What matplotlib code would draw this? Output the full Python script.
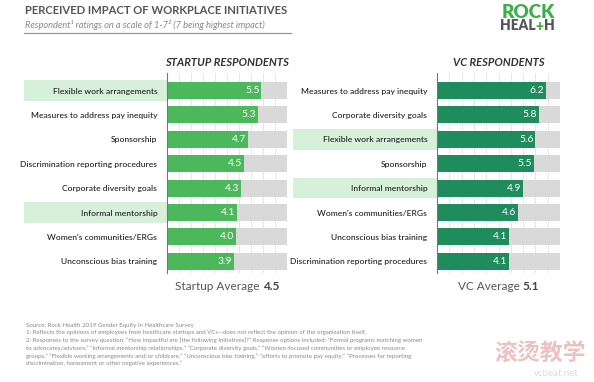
import matplotlib
matplotlib.use("Agg")
import matplotlib.pyplot as plt
import numpy as np

plt.rcParams['font.family'] = ['Lato', 'DejaVu Sans']

startup_labels = ["Flexible work arrangements", "Measures to address pay inequity", "Sponsorship",
                  "Discrimination reporting procedures", "Corporate diversity goals",
                  "Informal mentorship", "Women's communities/ERGs", "Unconscious bias training"]
startup_values = [5.5, 5.3, 4.7, 4.5, 4.3, 4.1, 4.0, 3.9]
startup_highlight = ["Flexible work arrangements", "Informal mentorship"]

vc_labels = ["Measures to address pay inequity", "Corporate diversity goals", "Flexible work arrangements",
             "Sponsorship", "Informal mentorship", "Women's communities/ERGs",
             "Unconscious bias training", "Discrimination reporting procedures"]
vc_values = [6.2, 5.8, 5.6, 5.5, 4.9, 4.6, 4.1, 4.1]
vc_highlight = ["Flexible work arrangements", "Informal mentorship"]

scale_max = 7
startup_avg = 4.5
vc_avg = 5.1

W, H = 594, 382
fig = plt.figure(figsize=(W / 100, H / 100), dpi=100)
fig.patch.set_facecolor('white')
r = fig.canvas.get_renderer()


def px_axes(x0, y0, x1, y1):
    return fig.add_axes([x0 / W, 1 - y1 / H, (x1 - x0) / W, (y1 - y0) / H])


def place_pair(label, num, cx_px, y_px, size):
    a = fig.text(0, 1 - y_px / H, label + " ", ha='left', va='center', fontsize=size, color='#555')
    b = fig.text(0, 1 - y_px / H, num, ha='left', va='center', fontsize=size, color='#444',
                 fontweight='bold')
    fig.canvas.draw()
    wa = a.get_window_extent(r).width
    wb = b.get_window_extent(r).width
    start = cx_px - (wa + wb) / 2
    a.set_x(start / W)
    b.set_x((start + wa) / W)


def panel(x0, x1, hl_x0, labels, values, highlight, color, title, avg_label, avg):
    ax = px_axes(x0, 73, x1, 273)
    n = len(labels)
    y = np.arange(n)
    unit_px = (x1 - x0) / scale_max
    hl_left = -(x0 - hl_x0) / unit_px
    for yi, lab in zip(y, labels):
        if lab in highlight:
            ax.barh(yi, -hl_left, left=hl_left, height=0.85, color='#d6f0da',
                    clip_on=False, zorder=0, linewidth=0)
    for gx in np.linspace(0, scale_max, 11):
        ax.axvline(gx, color='#e2e2e2', lw=0.6, zorder=0.5)
    ax.barh(y, [scale_max] * n, height=0.7, color='#d9d9d9', zorder=1, linewidth=0)
    ax.barh(y, values, height=0.7, color=color, zorder=2, linewidth=0)
    for yi, v in zip(y, values):
        ax.text(v - 0.1, yi, f"{v:.1f}", ha='right', va='center', color='white',
                fontsize=7.5, zorder=3)
    ax.set_xlim(0, scale_max)
    ax.set_ylim(n - 0.52, -0.72)
    ax.set_yticks(y)
    ax.set_yticklabels(labels, fontsize=6.1, color='#1e1e1e', fontweight='medium')
    ax.tick_params(axis='y', length=0, pad=7)
    ax.tick_params(axis='x', length=0, labelbottom=False)
    for s in ['top', 'right', 'bottom']:
        ax.spines[s].set_visible(False)
    ax.spines['left'].set_color('#777')
    ax.spines['left'].set_linewidth(0.8)
    ax.spines['left'].set_bounds(n - 0.52, -0.72)
    ax.set_facecolor('none')
    cx = (x0 + x1) / 2 / W
    fig.text(cx, 1 - 63 / H, title, ha='center', va='center', fontsize=8,
             fontweight='bold', fontstyle='italic', color='#333')
    place_pair(avg_label, f"{avg:.1f}", (x0 + x1) / 2, 287, 8.5)
    return ax


ax1 = panel(167, 287, 24, startup_labels, startup_values, startup_highlight, '#4cb85c',
            "STARTUP RESPONDENTS", "Startup Average", startup_avg)
ax2 = panel(437, 560, 293, vc_labels, vc_values, vc_highlight, '#1f8c5e',
            "VC RESPONDENTS", "VC Average", vc_avg)

# title block
fig.text(25 / W, 1 - 11 / H, "PERCEIVED IMPACT OF WORKPLACE INITIATIVES", ha='left', va='center',
         fontsize=8.1, fontweight='bold', color='#555')
fig.text(25 / W, 1 - 25 / H, "Respondent\u00b9 ratings on a scale of 1-7\u00b2 (7 being highest impact)",
         ha='left', va='center', fontsize=6.7, fontstyle='italic', color='#888')
fig.add_artist(plt.Line2D([24 / W, 291 / W], [1 - 33 / H, 1 - 33 / H], color='#999', lw=0.9))

# logo
fig.text(528 / W, 1 - 12 / H, "ROCK", ha='center', va='center', fontsize=13.5, fontweight='heavy',
         color='#3daf4a')
heal = fig.text(500 / W, 1 - 26 / H, "HEAL", ha='left', va='center', fontsize=9.8, fontweight='heavy',
                color='#555')
fig.canvas.draw()
hx = 500 + heal.get_window_extent(r).width
plus = fig.text(hx / W, 1 - 26 / H, "+", ha='left', va='center', fontsize=9.8, fontweight='heavy',
                color='#3daf4a')
fig.canvas.draw()
hx2 = hx + plus.get_window_extent(r).width
fig.text(hx2 / W, 1 - 26 / H, "H", ha='left', va='center', fontsize=9.8, fontweight='heavy',
         color='#555')

# footnotes
notes = [
    "Source: Rock Health 2019 Gender Equity in Healthcare Survey",
    "1: Reflects the opinions of employees from healthcare startups and VCs\u2014does not reflect the opinion of the organization itself.",
    "2: Responses to the survey question: \u201cHow impactful are [the following initiatives]?\u201d Response options included: \u201cFormal programs matching women",
    "to advocates/advisors,\u201d \u201cInformal mentorship relationships,\u201d \u201cCorporate diversity goals,\u201d \u201cWomen-focused communities or employee resource",
    "groups,\u201d \u201cFlexible working arrangements and/or childcare,\u201d \u201cUnconscious bias training,\u201d \u201cefforts to promote pay equity,\u201d \u201cProcesses for reporting",
    "discrimination, harassment or other negative experiences.\u201d",
]
for i, line in enumerate(notes):
    fig.text(26 / W, 1 - (325 + i * 7.7) / H, line, ha='left', va='center', fontsize=4.45, color='#888')

# watermark
fig.text(540 / W, 1 - 354 / H, "滚烫教学", ha='center', va='center', fontsize=16.5, fontweight='bold',
         color='#e8bcbc', family=['Noto Sans CJK SC', 'DejaVu Sans'], alpha=0.9)
fig.text(556 / W, 1 - 373 / H, "vcbeat.net", ha='center', va='center', fontsize=7,
         color='#dddddd')

fig.savefig("out.png", dpi=100, facecolor='white')
